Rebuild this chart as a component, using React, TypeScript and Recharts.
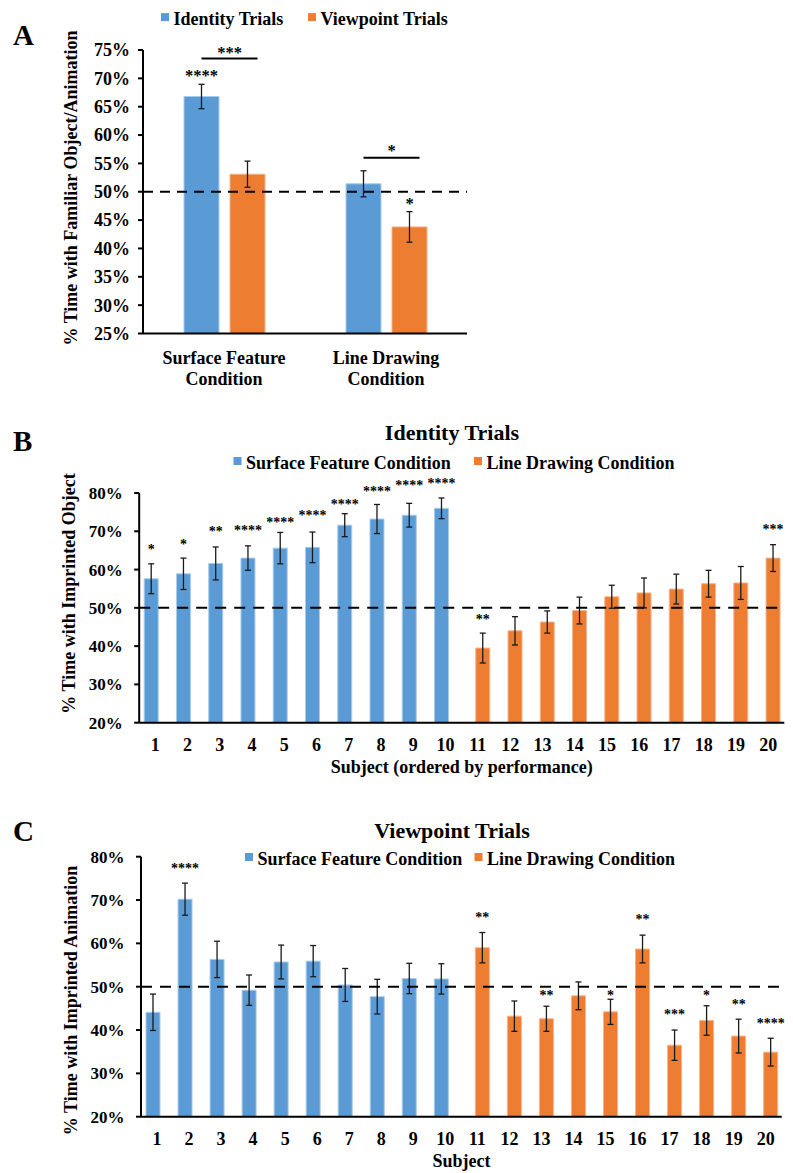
import { Bar, BarChart, ErrorBar, LabelList, ReferenceLine, XAxis, YAxis } from "recharts";

const BLUE = "#5B9BD5";
const ORANGE = "#ED7D31";
const BLUE_EDGE = "#A9CCEB";
const ORANGE_EDGE = "#F6B48E";
const FONT = '"Liberation Serif", "Times New Roman", serif';

// ---- Panel A: group means ----
const conditions = ["Surface Feature Condition", "Line Drawing Condition"];
const conditionLines = [
  ["Surface Feature", "Condition"],
  ["Line Drawing", "Condition"],
];
const trialTypes = ["Identity Trials", "Viewpoint Trials"];
const identityA = [66.8, 51.4];
const identityErrA = [2.15, 2.3];
const viewpointA = [53.1, 43.8];
const viewpointErrA = [2.3, 2.7];
const identityStarsA = ["****", ""];
const identityStarAtA = [70.9, null];
const viewpointStarsA = ["", "*"];
const viewpointStarAtA = [null, 48.4];
const pairStarsA = ["***", "*"];
const pairLineAtA = [73.5, 56.0];
const pairTextAtA = [75.0, 57.7];
const ticksA = [25, 30, 35, 40, 45, 50, 55, 60, 65, 70, 75];

// ---- Panels B & C: per subject ----
const groups = ["Surface Feature Condition", "Line Drawing Condition"];
const subjects = ["1", "2", "3", "4", "5", "6", "7", "8", "9", "10", "11", "12", "13", "14", "15", "16", "17", "18", "19", "20"];
const ticksBC = [20, 30, 40, 50, 60, 70, 80];

const identitySurface = [57.6, 58.9, 61.6, 63.0, 65.6, 65.8, 71.6, 73.2, 74.2, 76.0];
const identitySurfaceErr = [3.9, 4.1, 4.3, 3.2, 4.1, 4.0, 3.0, 3.8, 3.1, 2.7];
const identityLine = [39.5, 44.0, 46.3, 49.3, 52.9, 53.9, 54.9, 56.3, 56.5, 63.0];
const identityLineErr = [3.9, 3.7, 2.9, 3.5, 3.0, 3.9, 3.9, 3.5, 4.3, 3.5];
const identityStars = ["*", "*", "**", "****", "****", "****", "****", "****", "****", "****", "**", "", "", "", "", "", "", "", "", "***"];
const identityStarAt = [65.9, 67.2, 70.6, 70.9, 73.0, 74.8, 77.7, 81.0, 82.6, 83.1, 47.6, null, null, null, null, null, null, null, null, 71.1];

const viewpointSurface = [44.1, 70.2, 56.3, 49.2, 55.7, 55.9, 50.4, 47.7, 51.9, 51.8];
const viewpointSurfaceErr = [4.2, 3.7, 4.2, 3.5, 3.9, 3.6, 3.8, 4.0, 3.5, 3.5];
const viewpointLine = [59.0, 43.2, 42.6, 47.9, 44.2, 58.7, 36.5, 42.2, 38.6, 34.9];
const viewpointLineErr = [3.5, 3.5, 2.9, 3.2, 2.9, 3.2, 3.5, 3.4, 3.9, 3.2];
const viewpointStars = ["", "****", "", "", "", "", "", "", "", "", "**", "", "**", "", "*", "**", "***", "*", "**", "****"];
const viewpointStarAt = [null, 77.9, null, null, null, null, null, null, null, null, 66.5, null, 48.5, null, 48.5, 66.1, 44.2, 48.5, 46.5, 42.1];

const dataA = conditions.map((c, i) => ({
  condition: c,
  identity: identityA[i],
  identityErr: identityErrA[i],
  viewpoint: viewpointA[i],
  viewpointErr: viewpointErrA[i],
}));

function buildRows(surf: number[], surfErr: number[], line: number[], lineErr: number[]) {
  return subjects.map((s, i) => ({
    subject: s,
    surface: i < 10 ? surf[i] : null,
    surfaceErr: i < 10 ? surfErr[i] : null,
    line: i >= 10 ? line[i - 10] : null,
    lineErr: i >= 10 ? lineErr[i - 10] : null,
  }));
}

const dataB = buildRows(identitySurface, identitySurfaceErr, identityLine, identityLineErr);
const dataC = buildRows(viewpointSurface, viewpointSurfaceErr, viewpointLine, viewpointLineErr);

const pct = (v: number) => `${v}%`;

// star text placed at a value above the bar, using the bar's own pixels per unit
function starContent(
  keys: string[],
  values: (number | null)[],
  stars: string[],
  starAt: (number | null)[],
  min: number,
  fs: number
) {
  return (props: any) => {
    const i = keys.indexOf(String(props.value));
    if (i < 0) return null;
    const v = values[i];
    const s = stars[i];
    const at = starAt[i];
    if (v == null || !s || at == null) return null;
    const vb = props.viewBox ?? props;
    const { x, y, width, height } = vb;
    const ppu = height / (v - min);
    const cy = y - (at - v) * ppu;
    return (
      <text x={x + width / 2} y={cy + fs * 0.5} textAnchor="middle" fontSize={fs} fontWeight={700} fontFamily={FONT} fill="#000">
        {s}
      </text>
    );
  };
}

// bracket between the two bars of a condition in panel A
function pairContent(gap: number) {
  return (props: any) => {
    const i = conditions.indexOf(String(props.value));
    if (i < 0) return null;
    const v = identityA[i];
    const vb = props.viewBox ?? props;
    const { x, y, width, height } = vb;
    const ppu = height / (v - ticksA[0]);
    const ly = y - (pairLineAtA[i] - v) * ppu;
    const ty = y - (pairTextAtA[i] - v) * ppu;
    const x1 = x + width / 2;
    const x2 = x + width + gap + width / 2 + 10;
    return (
      <g>
        <line x1={x1} x2={x2} y1={ly} y2={ly} stroke="#000" strokeWidth={2} />
        <text x={(x1 + x2) / 2} y={ty + 8.25} textAnchor="middle" fontSize={16.5} fontWeight={700} fontFamily={FONT} fill="#000">
          {pairStarsA[i]}
        </text>
      </g>
    );
  };
}

function ConditionTick({ x, y, payload }: any) {
  const lines = conditionLines[conditions.indexOf(payload.value)] ?? [payload.value];
  return (
    <text x={x} y={y} textAnchor="middle" fontSize={18} fontWeight={700} fontFamily={FONT} fill="#000">
      <tspan x={x} dy={30.5}>{lines[0]}</tspan>
      <tspan x={x} dy={21}>{lines[1]}</tspan>
    </text>
  );
}

function PanelA() {
  const gap = 11;
  return (
    <div style={{ position: "absolute", left: 0, top: 0, fontFamily: FONT }}>
      <BarChart width={793} height={400} data={dataA} margin={{ top: 50, right: 326, bottom: 36.5, left: 0 }} barSize={35} barGap={gap}>
        <XAxis dataKey="condition" tick={<ConditionTick />} tickLine={false} tickSize={0} tickMargin={0} axisLine={{ stroke: "#000", strokeWidth: 2 }} interval={0} />
        <YAxis
          width={143}
          domain={[25, 75]}
          ticks={ticksA}
          interval={0}
          tickFormatter={pct}
          tickSize={5}
          tickMargin={8}
          axisLine={{ stroke: "#000", strokeWidth: 2 }}
          tickLine={{ stroke: "#000", strokeWidth: 2 }}
          tick={{ fontSize: 18, fontWeight: 700, fill: "#000" }}
        />
        <Bar dataKey="identity" name={trialTypes[0]} fill={BLUE} stroke={BLUE_EDGE} strokeWidth={1} isAnimationActive={false}>
          <ErrorBar dataKey="identityErr" width={3} stroke="#1a1a1a" strokeWidth={1.3} direction="y" />
          <LabelList dataKey="condition" content={starContent(conditions, identityA, identityStarsA, identityStarAtA, 25, 16.5)} />
          <LabelList dataKey="condition" content={pairContent(gap)} />
        </Bar>
        <Bar dataKey="viewpoint" name={trialTypes[1]} fill={ORANGE} stroke={ORANGE_EDGE} strokeWidth={1} isAnimationActive={false}>
          <ErrorBar dataKey="viewpointErr" width={3} stroke="#1a1a1a" strokeWidth={1.3} direction="y" />
          <LabelList dataKey="condition" content={starContent(conditions, viewpointA, viewpointStarsA, viewpointStarAtA, 25, 16.5)} />
        </Bar>
        <ReferenceLine y={50} stroke="#000" strokeWidth={2} strokeDasharray="10 7" />
      </BarChart>
    </div>
  );
}

function SubjectPanel({
  top,
  height,
  margin,
  axisWidth,
  data,
  stars,
  starAt,
}: {
  top: number;
  height: number;
  margin: { top: number; right: number; bottom: number; left: number };
  axisWidth: number;
  data: typeof dataB;
  stars: string[];
  starAt: (number | null)[];
}) {
  const surf = data.map((d) => d.surface);
  const line = data.map((d) => d.line);
  return (
    <div style={{ position: "absolute", left: 0, top, fontFamily: FONT }}>
      <BarChart width={793} height={height} data={data} margin={margin} barSize={14} barGap={-5}>
        <XAxis
          dataKey="subject"
          interval={0}
          tickLine={false}
          tickSize={0}
          tickMargin={15.5}
          axisLine={{ stroke: "#000", strokeWidth: 2 }}
          tick={{ fontSize: 18, fontWeight: 700, fill: "#000" }}
        />
        <YAxis
          width={axisWidth}
          domain={[20, 80]}
          ticks={ticksBC}
          interval={0}
          tickFormatter={pct}
          tickSize={5}
          tickMargin={11.5}
          axisLine={{ stroke: "#000", strokeWidth: 2 }}
          tickLine={{ stroke: "#000", strokeWidth: 2 }}
          tick={{ fontSize: 17, fontWeight: 700, fill: "#000" }}
        />
        <Bar dataKey="surface" name={groups[0]} fill={BLUE} stroke={BLUE_EDGE} strokeWidth={1} isAnimationActive={false}>
          <ErrorBar dataKey="surfaceErr" width={3} stroke="#1a1a1a" strokeWidth={1.3} direction="y" />
          <LabelList dataKey="subject" content={starContent(subjects, surf, stars, starAt, 20, 14)} />
        </Bar>
        <Bar dataKey="line" name={groups[1]} fill={ORANGE} stroke={ORANGE_EDGE} strokeWidth={1} isAnimationActive={false}>
          <ErrorBar dataKey="lineErr" width={3} stroke="#1a1a1a" strokeWidth={1.3} direction="y" />
          <LabelList dataKey="subject" content={starContent(subjects, line, stars, starAt, 20, 14)} />
        </Bar>
        <ReferenceLine y={50} stroke="#000" strokeWidth={2} strokeDasharray="11 8" />
      </BarChart>
    </div>
  );
}

function LegendItem({ x, y, color, label }: { x: number; y: number; color: string; label: string }) {
  return (
    <g>
      <rect x={x} y={y - 11.5} width={8} height={8} fill={color} />
      <text x={x + 12.5} y={y} fontSize={18}>
        {label}
      </text>
    </g>
  );
}

function Overlay() {
  return (
    <svg
      width={793}
      height={1173}
      style={{ position: "absolute", left: 0, top: 0, pointerEvents: "none" }}
      fontFamily={FONT}
      fontWeight={700}
      fill="#000"
    >
      {/* panel letters */}
      <text x={13} y={45} fontSize={29}>A</text>
      <text x={13} y={451} fontSize={29}>B</text>
      <text x={13} y={841} fontSize={29}>C</text>

      {/* panel A */}
      <LegendItem x={161} y={24.6} color={BLUE} label={trialTypes[0]} />
      <LegendItem x={308} y={24.6} color={ORANGE} label={trialTypes[1]} />
      <text transform="translate(76.5,188) rotate(-90)" textAnchor="middle" fontSize={18}>
        % Time with Familiar Object/Animation
      </text>

      {/* panel B */}
      <text x={452} y={439.5} textAnchor="middle" fontSize={22}>{trialTypes[0]}</text>
      <LegendItem x={233.5} y={468.5} color={BLUE} label={groups[0]} />
      <LegendItem x={474} y={468.5} color={ORANGE} label={groups[1]} />
      <text transform="translate(74.5,593.5) rotate(-90)" textAnchor="middle" fontSize={18}>
        % Time with Imprinted Object
      </text>
      <text x={461.7} y={773} textAnchor="middle" fontSize={18}>Subject (ordered by performance)</text>

      {/* panel C */}
      <text x={452} y={838} textAnchor="middle" fontSize={22}>{trialTypes[1]}</text>
      <LegendItem x={245} y={864.5} color={BLUE} label={groups[0]} />
      <LegendItem x={474.5} y={864.5} color={ORANGE} label={groups[1]} />
      <text transform="translate(76.5,1000.5) rotate(-90)" textAnchor="middle" fontSize={18}>
        % Time with Imprinted Animation
      </text>
      <text x={461.5} y={1167} textAnchor="middle" fontSize={18}>Subject</text>
    </svg>
  );
}

export default function App() {
  return (
    <div style={{ position: "absolute", left: 0, top: 0, width: 793, height: 1173, background: "#fff", overflow: "hidden" }}>
      <PanelA />
      <SubjectPanel
        top={410}
        height={380}
        margin={{ top: 83, right: 8.7, bottom: 37.3, left: 0 }}
        axisWidth={139.2}
        data={dataB}
        stars={identityStars}
        starAt={identityStarAt}
      />
      <SubjectPanel
        top={810}
        height={363}
        margin={{ top: 46.7, right: 11.3, bottom: 26.3, left: 0 }}
        axisWidth={141}
        data={dataC}
        stars={viewpointStars}
        starAt={viewpointStarAt}
      />
      <Overlay />
    </div>
  );
}
